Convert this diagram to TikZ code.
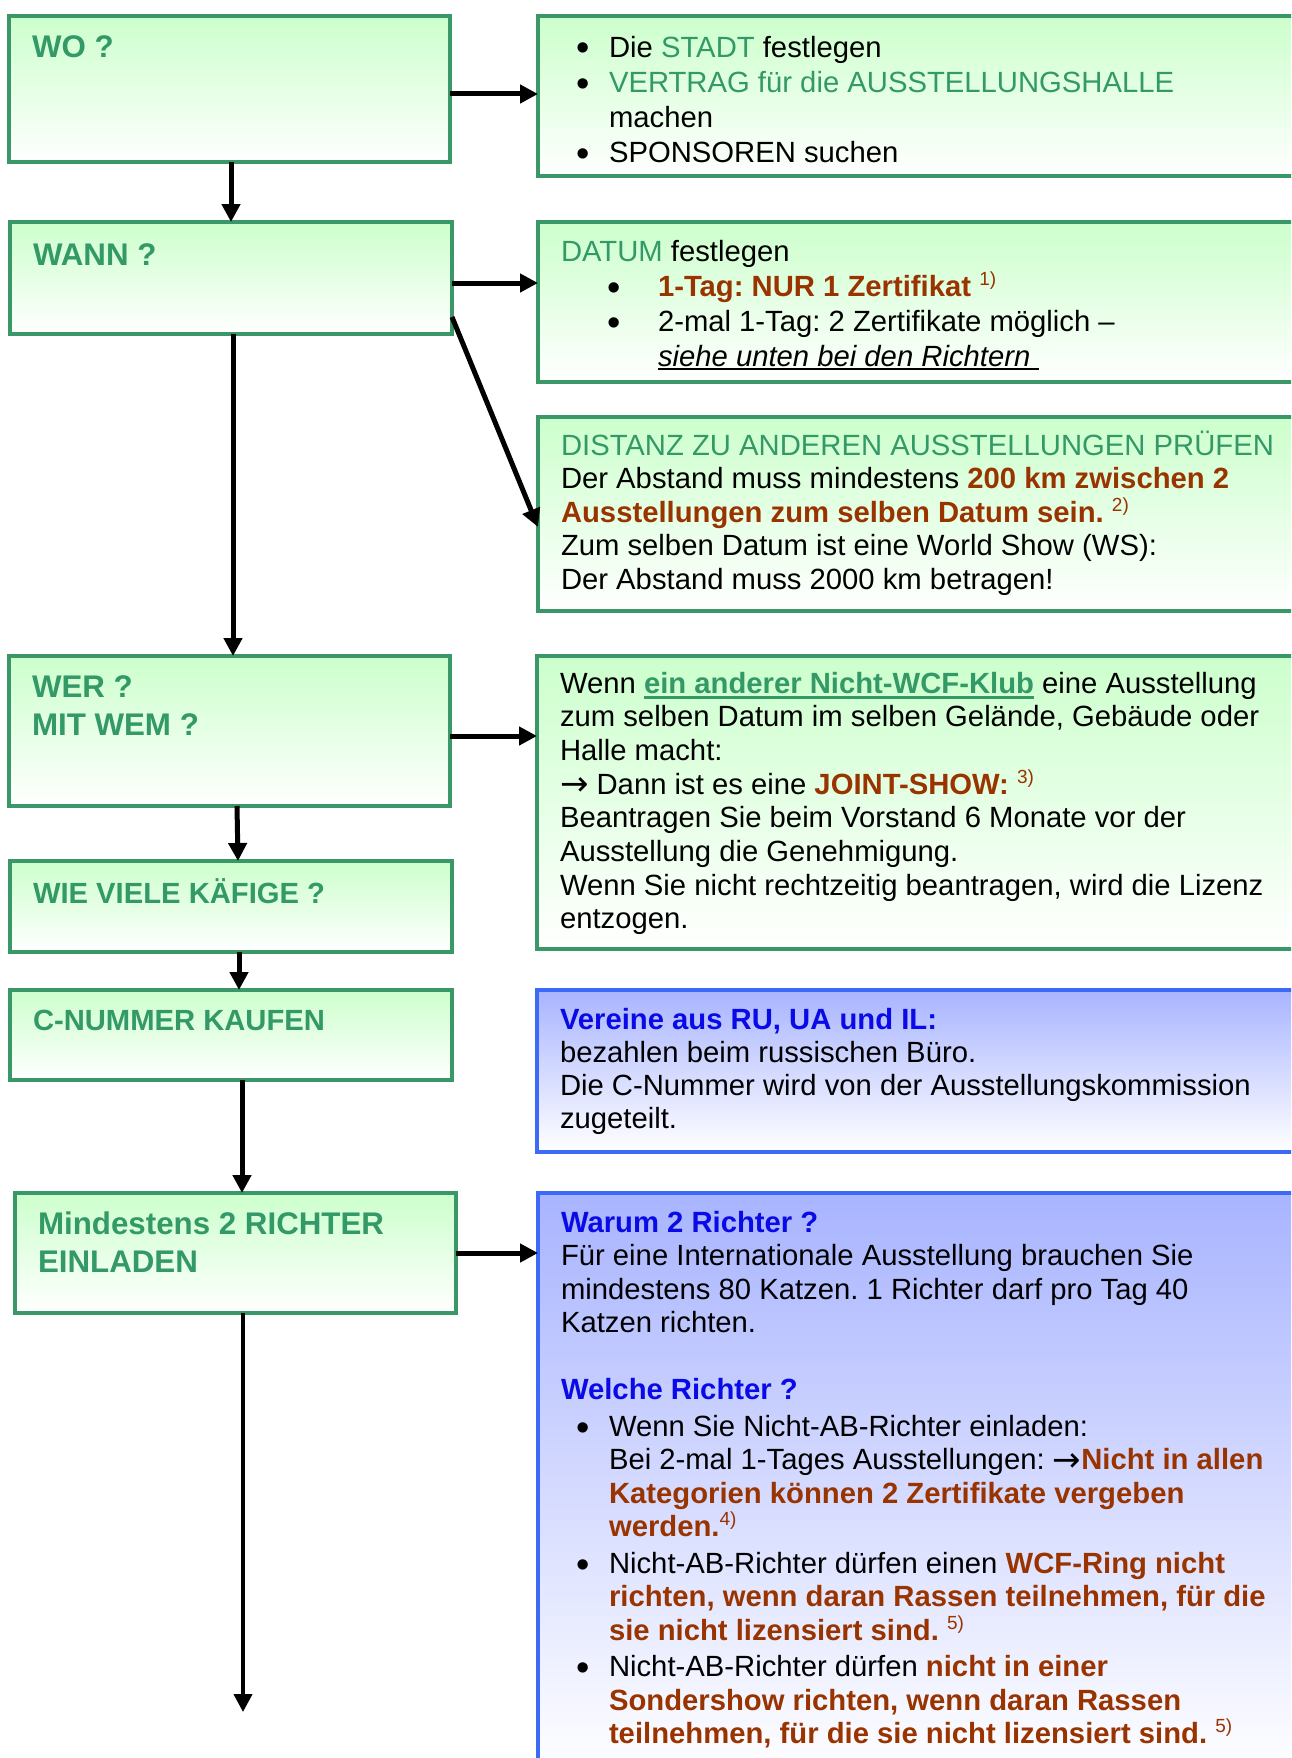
\documentclass[tikz,border=0pt]{standalone}
\usepackage{fontspec}
\setmainfont{Liberation Sans}
\newfontfamily\djv{DejaVu Sans}
\usetikzlibrary{arrows.meta}
\definecolor{gtext}{RGB}{51,153,102}
\definecolor{gline}{RGB}{58,152,104}
\definecolor{gfill}{RGB}{204,255,204}
\definecolor{bfill}{RGB}{168,180,255}
\definecolor{bline}{RGB}{60,105,245}
\definecolor{btext}{RGB}{10,10,230}
\definecolor{rtext}{RGB}{153,51,0}
\newcommand\mystrut{\rule{0pt}{30pt}}
\newcommand\nolsl{\lineskiplimit=-100pt\relax}
\newcommand\bodyfont[1]{\fontsize{29.25}{#1}\selectfont\nolsl}
\newcommand\rbx[1]{\textcolor{rtext}{\bfseries #1}}
\newcommand\gtx[1]{\textcolor{gtext}{#1}}
\newcommand\btx[1]{\textcolor{btext}{\bfseries #1}}
\newcommand\fnote[1]{\textcolor{rtext}{\raisebox{11pt}{\fontsize{19}{19}\selectfont #1}}}
\newcommand\bul[1]{\llap{\makebox[#1][c]{\fontsize{38}{38}\selectfont\raisebox{-4pt}{•}}}}
\newcommand\myul[3]{\setbox0\hbox{#3}\rlap{\rule[#1]{\wd0}{#2}}\box0}
\newcommand\rarr{{\djv\fontsize{34}{34}\selectfont\raisebox{-1.5pt}{→}}}
\tikzset{
  gbox/.style={draw=gline, line width=3.5pt, top color=gfill, bottom color=white,
    anchor=north west, inner sep=0pt, outer sep=0pt},
  bbox/.style={draw=bline, line width=3.5pt, top color=bfill, bottom color=white,
    anchor=north west, inner sep=0pt, outer sep=0pt},
  txt/.style={anchor=north west, inner sep=0pt, outer sep=0pt, align=left},
  hd/.style={txt, text=gtext},
  arr/.style={line width=5pt, -{Triangle[length=18pt,width=18pt]}},
}
\frenchspacing
\begin{document}
\frenchspacing
\begin{tikzpicture}[x=1pt,y=-1pt]
\useasboundingbox (0,0) rectangle (1291,1758);
\clip (0,0) rectangle (1291,1758);
\fill[white] (0,0) rectangle (1291,1758);
% left boxes
\node[gbox, minimum width=441pt, minimum height=146pt] (wo) at (9,16) {};
\node[gbox, minimum width=442pt, minimum height=112pt] (wann) at (10,222) {};
\node[gbox, minimum width=441pt, minimum height=150pt] (wer) at (9,656) {};
\node[gbox, minimum width=442pt, minimum height=91pt] (wie) at (10,861) {};
\node[gbox, minimum width=442pt, minimum height=90pt] (cnum) at (10,990) {};
\node[gbox, minimum width=441pt, minimum height=120pt] (mind) at (15,1193) {};
% right boxes
\node[gbox, minimum width=800pt, minimum height=160pt] (r1) at (538,16) {};
\node[gbox, minimum width=800pt, minimum height=160pt] (r2) at (538,222) {};
\node[gbox, minimum width=800pt, minimum height=194pt] (r3) at (538,417) {};
\node[gbox, minimum width=800pt, minimum height=293pt] (r4) at (537,656) {};
\node[bbox, minimum width=800pt, minimum height=162pt] (r5) at (537,990) {};
\node[bbox, minimum width=800pt, minimum height=580pt] (r6) at (538,1193) {};
% headings
\node[hd, font=\bfseries\fontsize{31.3}{38}\selectfont] (wot) at (32,28) {\mystrut WO ?};
\node[hd, font=\bfseries\fontsize{31.3}{38}\selectfont] (wannt) at (33,235) {\mystrut WANN ?};
\node[hd, font=\bfseries\fontsize{31.3}{38}\selectfont] (wert) at (32,667) {\mystrut WER ?\\MIT WEM ?};
\node[hd, font=\bfseries\fontsize{29.2}{35}\selectfont] (wiet) at (33,873) {\mystrut WIE VIELE KÄFIGE ?};
\node[hd, font=\bfseries\fontsize{29.2}{35}\selectfont] (cnumt) at (33,1000) {\mystrut C-NUMMER KAUFEN};
\node[hd, font=\bfseries\fontsize{31.3}{38}\selectfont] (mindt) at (38,1204) {\mystrut Mindestens 2 RICHTER\\EINLADEN};
% right texts
\node[txt, font=\bodyfont{35}] (r1t) at (609,27)
 {\mystrut\bul{52pt}Die \gtx{STADT} festlegen\\
  \bul{52pt}\gtx{VERTRAG für die AUSSTELLUNGSHALLE}\\
  machen\\
  \bul{52pt}SPONSOREN suchen};
\node[txt, font=\bodyfont{35}] (r2t) at (561,231)
 {\mystrut\gtx{DATUM} festlegen\\
  \hspace*{97pt}\bul{88pt}\rbx{1-Tag: NUR 1 Zertifikat} \fnote{1)}\\
  \hspace*{97pt}\bul{88pt}2-mal 1-Tag: 2 Zertifikate möglich –\\
  \hspace*{97pt}\myul{-4pt}{2pt}{\textit{siehe unten bei den Richtern}\ }};
\node[txt, font=\bodyfont{33.5}] (r3t) at (561,425)
 {\mystrut\gtx{DISTANZ ZU ANDEREN AUSSTELLUNGEN PRÜFEN}\\
  Der Abstand muss mindestens \rbx{200 km zwischen 2}\\
  \rbx{Ausstellungen zum selben Datum sein.} \fnote{2)}\\
  Zum selben Datum ist eine World Show (WS):\\
  Der Abstand muss 2000 km betragen!};
\node[txt, font=\bodyfont{33.7}] (r4t) at (560,663)
 {\mystrut Wenn \textcolor{gtext}{\bfseries\myul{-6pt}{3pt}{ein anderer Nicht-WCF-Klub}} eine Ausstellung\\
  zum selben Datum im selben Gelände, Gebäude oder\\
  Halle macht:\\
  \rarr\ Dann ist es eine \rbx{JOINT-SHOW:} \fnote{3)}\\
  Beantragen Sie beim Vorstand 6 Monate vor der\\
  Ausstellung die Genehmigung.\\
  Wenn Sie nicht rechtzeitig beantragen, wird die Lizenz\\
  entzogen.};
\node[txt, font=\bodyfont{33}] (r5t) at (560,999)
 {\mystrut\btx{Vereine aus RU, UA und IL:}\\
  bezahlen beim russischen Büro.\\
  Die C-Nummer wird von der Ausstellungskommission\\
  zugeteilt.};
\node[txt, font=\bodyfont{33.5}] (r6t) at (561,1202)
 {\mystrut\btx{Warum 2 Richter ?}\\
  Für eine Internationale Ausstellung brauchen Sie\\
  mindestens 80 Katzen. 1 Richter darf pro Tag 40\\
  Katzen richten.\\[33.5pt]
  \btx{Welche Richter ?}\\[3pt]
  \hspace*{48pt}\bul{52pt}Wenn Sie Nicht-AB-Richter einladen:\\
  \hspace*{48pt}Bei 2-mal 1-Tages Ausstellungen: \rarr\rbx{Nicht in allen}\\
  \hspace*{48pt}\rbx{Kategorien können 2 Zertifikate vergeben}\\
  \hspace*{48pt}\rbx{werden.}\fnote{4)}\\[3pt]
  \hspace*{48pt}\bul{52pt}Nicht-AB-Richter dürfen einen \rbx{WCF-Ring nicht}\\
  \hspace*{48pt}\rbx{richten, wenn daran Rassen teilnehmen, für die}\\
  \hspace*{48pt}\rbx{sie nicht lizensiert sind.} \fnote{5)}\\[3pt]
  \hspace*{48pt}\bul{52pt}Nicht-AB-Richter dürfen \rbx{nicht in einer}\\
  \hspace*{48pt}\rbx{Sondershow richten, wenn daran Rassen}\\
  \hspace*{48pt}\rbx{teilnehmen, für die sie nicht lizensiert sind.} \fnote{5)}};
% connectors
\draw[arr] (wo.east |- 0,94) -- (r1.west |- 0,94);
\draw[arr] (wo.south -| 231,0) -- (wann.north -| 231,0);
\draw[arr] (wann.east |- 0,283) -- (r2.west |- 0,283);
\draw[arr] (wann.east |- 0,317) -- (r3.west |- 0,527);
\draw[arr] (wann.south -| 233,0) -- (wer.north -| 233,0);
\draw[arr] (wer.east |- 0,736) -- (r4.west |- 0,736);
\draw[arr] (wer.south -| 237,0) -- (wie.north -| 238,0);
\draw[arr] (wie.south -| 239,0) -- (cnum.north -| 239,0);
\draw[arr] (cnum.south -| 242,0) -- (mind.north -| 242,0);
\draw[arr] (mind.east |- 0,1253) -- (r6.west |- 0,1253);
\coordinate (endpt) at (243,1712);
\draw[arr, line width=4pt] (mind.south -| 243,0) -- (endpt);
\end{tikzpicture}
\end{document}
